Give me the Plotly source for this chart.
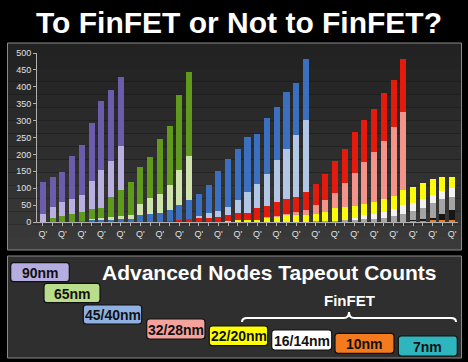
import plotly.graph_objects as go

W, H = 468, 362
ML, MR, MT, MB = 37, 10, 53, 140
PW = W - ML - MR
PH = H - MT - MB


def px(x):
    return (x - ML) / PW


def py(y):
    return (H - MB - y) / PH


# ---------------- data (segment values per bar, bottom -> top) ----------------
bars = list(range(43))
tick_labels = ["Q'" if i % 2 == 0 else "" for i in bars]

#            90nm group (9)                          65nm group (7)                 45/40nm group (12)                                  32/28nm group (10)                            22/20nm group (5)
orange   = [0, 0, 0, 0, 0, 0, 0, 0, 0,            0, 0, 0, 0, 0, 0, 0,            0, 0, 0, 0, 0, 0, 0, 0, 0, 0, 0, 0,                0, 0, 0, 0, 0, 0, 0, 0, 0, 0,               3, 3, 5, 6, 7]
black    = [0, 0, 0, 0, 0, 0, 0, 0, 0,            0, 0, 0, 0, 0, 0, 0,            0, 0, 0, 0, 0, 0, 0, 0, 0, 0, 0, 0,                0, 0, 0, 0, 0, 0, 0, 0, 0, 0,               2, 7, 8, 18, 28]
gray     = [0, 0, 0, 0, 0, 0, 0, 0, 0,            0, 0, 0, 0, 0, 0, 0,            0, 0, 0, 0, 0, 0, 0, 0, 0, 0, 0, 0,                2, 2, 3, 5, 5, 10, 10, 13, 17, 25,          28, 30, 42, 45, 39]
white    = [0, 0, 0, 0, 0, 0, 0, 0, 0,            0, 0, 0, 0, 0, 0, 0,            0, 0, 0, 0, 0, 0, 0, 0, 0, 0, 0, 0,                0, 0, 0, 0, 8, 10, 15, 17, 20, 25,          24, 27, 24, 22, 27]
yellow   = [0, 0, 0, 0, 0, 0, 0, 0, 0,            0, 0, 0, 0, 0, 0, 0,            0, 0, 0, 2, 6, 6, 7, 12, 14, 21, 21, 21,           22, 27, 39, 38, 34, 33, 34, 39, 40, 44,     46, 47, 48, 42, 32]
lightred = [0, 0, 0, 0, 0, 0, 0, 0, 0,            0, 0, 0, 0, 0, 0, 0,            0, 0, 0, 0, 0, 0, 0, 3, 4, 4, 9, 14,               25, 37, 44, 71, 97, 125, 149, 171, 203, 232, 0, 0, 0, 0, 0]
red      = [0, 0, 0, 0, 0, 0, 0, 0, 0,            0, 0, 0, 0, 2, 5, 10,           12, 13, 16, 19, 20, 22, 33, 33, 40, 44, 43, 54,    64, 76, 95, 101, 122, 124, 126, 141, 141, 157, 0, 0, 0, 0, 0]
lightblue = [0, 0, 0, 0, 0, 0, 0, 0, 0,           0, 0, 0, 0, 0, 0, 0,            5, 14, 16, 22, 40, 61, 73, 93, 125, 148, 183, 213, 0, 0, 0, 0, 0, 0, 0, 0, 0, 0,               0, 0, 0, 0, 0]
blue     = [0, 0, 0, 0, 2, 5, 7, 7, 10,           8, 20, 23, 27, 33, 44, 54,      67, 83, 118, 142, 151, 162, 147, 166, 156, 167, 155, 181, 0, 0, 0, 0, 0, 0, 0, 0, 0, 0,         0, 0, 0, 0, 0]
lightgreen = [0, 0, 0, 0, 0, 5, 6, 7, 7,          12, 33, 48, 55, 75, 104, 132,   0, 0, 0, 0, 0, 0, 0, 0, 0, 0, 0, 0,                0, 0, 0, 0, 0, 0, 0, 0, 0, 0,               0, 0, 0, 0, 0]
green    = [0, 13, 17, 25, 27, 29, 29, 60, 77,    97, 109, 121, 163, 174, 223, 247, 0, 0, 0, 0, 0, 0, 0, 0, 0, 0, 0, 0,              0, 0, 0, 0, 0, 0, 0, 0, 0, 0,               0, 0, 0, 0, 0]
lightpurple = [23, 30, 42, 42, 52, 81, 111, 106, 131, 0, 0, 0, 0, 0, 0, 0,        0, 0, 0, 0, 0, 0, 0, 0, 0, 0, 0, 0,                0, 0, 0, 0, 0, 0, 0, 0, 0, 0,               0, 0, 0, 0, 0]
purple   = [96, 91, 88, 128, 147, 172, 205, 211, 205, 0, 0, 0, 0, 0, 0, 0,        0, 0, 0, 0, 0, 0, 0, 0, 0, 0, 0, 0,                0, 0, 0, 0, 0, 0, 0, 0, 0, 0,               0, 0, 0, 0, 0]

series = [
    ("10nm", orange, "#f07a1e"),
    ("16/14nm dark", black, "#161616"),
    ("16/14nm gray", gray, "#a4a4a4"),
    ("16/14nm", white, "#f2f2f2"),
    ("22/20nm", yellow, "#fbfb0a"),
    ("32/28nm light", lightred, "#f4938a"),
    ("32/28nm", red, "#e41b0c"),
    ("45/40nm light", lightblue, "#b2c6e6"),
    ("45/40nm", blue, "#3a70bf"),
    ("65nm light", lightgreen, "#cfe4aa"),
    ("65nm", green, "#5f9a1c"),
    ("90nm light", lightpurple, "#bab0e0"),
    ("90nm", purple, "#6c5cac"),
]

legend_nodes = ["90nm", "65nm", "45/40nm", "32/28nm", "22/20nm", "16/14nm", "10nm", "7nm"]
legend_colors = ["#b5addf", "#b9dd8a", "#8fb0e3", "#f4a29c", "#ffff00", "#ffffff", "#f47a20", "#2fb5bd"]

# ---------------- figure ----------------
fig = go.Figure()
for name, vals, col in series:
    fig.add_trace(go.Bar(x=bars, y=vals, name=name, marker=dict(color=col, line=dict(width=0)),
                         showlegend=False))

shapes = []
# upper panel gradient background
top, bot = 43, 250
nb = 16
c0, c1 = (0x22, 0x22, 0x22), (0x3a, 0x3a, 0x3a)
for k in range(nb):
    t = k / (nb - 1)
    c = tuple(int(c0[j] + (c1[j] - c0[j]) * t) for j in range(3))
    y0 = top + (bot - top) * k / nb
    y1 = top + (bot - top) * (k + 1) / nb
    shapes.append(dict(type="rect", xref="paper", yref="paper", x0=px(7.5), x1=px(461.5),
                       y0=py(y1), y1=py(y0), fillcolor="rgb(%d,%d,%d)" % c,
                       line=dict(width=0), layer="below"))
shapes.append(dict(type="rect", xref="paper", yref="paper", x0=px(7.5), x1=px(461.5),
                   y0=py(250), y1=py(43), fillcolor="rgba(0,0,0,0)",
                   line=dict(color="#8a8a8a", width=1), layer="below"))
# lower panel
shapes.append(dict(type="rect", xref="paper", yref="paper", x0=px(7.5), x1=px(461.5),
                   y0=py(358), y1=py(256), fillcolor="#2f2f2f",
                   line=dict(color="#8a8a8a", width=1), layer="below"))

annotations = []
annotations.append(dict(text="<b>To FinFET or Not to FinFET?</b>", xref="paper", yref="paper",
                        x=px(238.5), y=py(23), xanchor="center", yanchor="middle", showarrow=False,
                        font=dict(family="Liberation Sans, Arial", size=30, color="white")))
annotations.append(dict(text="<b>Advanced Nodes Tapeout Counts</b>", xref="paper", yref="paper",
                        x=px(268.5), y=py(272), xanchor="center", yanchor="middle", showarrow=False,
                        font=dict(family="Liberation Sans, Arial", size=21, color="white")))
annotations.append(dict(text="<b>FinFET</b>", xref="paper", yref="paper",
                        x=px(349), y=py(300), xanchor="center", yanchor="middle", showarrow=False,
                        font=dict(family="Liberation Sans, Arial", size=15, color="white")))

boxes = [(10.7, 262.7, 69.3, 281.7), (44, 283.3, 100, 302.7), (83.3, 305, 141.7, 324),
         (146.7, 319, 205, 339), (209.3, 326, 267.7, 345.7), (271.7, 330, 331.7, 350),
         (335, 333.3, 394, 353.3), (398.3, 336, 457.3, 356)]


def rrect(x0, y0, x1, y1, r=3):
    pts = [
        f"M {px(x0 + r)},{py(y0)}",
        f"L {px(x1 - r)},{py(y0)}",
        f"Q {px(x1)},{py(y0)} {px(x1)},{py(y0 + r)}",
        f"L {px(x1)},{py(y1 - r)}",
        f"Q {px(x1)},{py(y1)} {px(x1 - r)},{py(y1)}",
        f"L {px(x0 + r)},{py(y1)}",
        f"Q {px(x0)},{py(y1)} {px(x0)},{py(y1 - r)}",
        f"L {px(x0)},{py(y0 + r)}",
        f"Q {px(x0)},{py(y0)} {px(x0 + r)},{py(y0)} Z",
    ]
    return " ".join(pts)


for (x0, y0, x1, y1), lab, col in zip(boxes, legend_nodes, legend_colors):
    shapes.append(dict(type="path", xref="paper", yref="paper", path=rrect(x0, y0, x1, y1),
                       fillcolor=col, line=dict(color="#111111", width=1.2)))
    annotations.append(dict(text="<b>%s</b>" % lab, xref="paper", yref="paper",
                            x=px((x0 + x1) / 2), y=py((y0 + y1) / 2 + 0.5), xanchor="center",
                            yanchor="middle", showarrow=False,
                            font=dict(family="Liberation Sans, Arial", size=14, color="#111111")))

# brace over FinFET nodes
brace = (f"M {px(242)},{py(322)} Q {px(242)},{py(318)} {px(247)},{py(318)} "
         f"L {px(344)},{py(318)} Q {px(349)},{py(318)} {px(349)},{py(312)} "
         f"Q {px(349)},{py(318)} {px(354)},{py(318)} "
         f"L {px(451)},{py(318)} Q {px(456)},{py(318)} {px(456)},{py(322)}")
shapes.append(dict(type="path", xref="paper", yref="paper", path=brace,
                   line=dict(color="white", width=2)))

fig.update_layout(
    width=W, height=H,
    margin=dict(l=ML, r=MR, t=MT, b=MB, pad=0),
    paper_bgcolor="black", plot_bgcolor="rgba(0,0,0,0)",
    barmode="stack", bargap=0.38,
    shapes=shapes, annotations=annotations,
    font=dict(family="Liberation Sans, Arial", color="#e0e0e0"),
    xaxis=dict(range=[-0.6, 42.6], tickmode="array", tickvals=bars, ticktext=tick_labels,
               ticks="outside", ticklen=3, tickcolor="#b0b0b0", showline=True, linecolor="#b0b0b0",
               linewidth=1, showgrid=False, zeroline=False, tickangle=0,
               tickfont=dict(size=9, color="#e0e0e0")),
    yaxis=dict(range=[0, 500], dtick=50, ticks="outside", ticklen=3, tickcolor="#b0b0b0",
               showline=True, linecolor="#b0b0b0", linewidth=1, showgrid=False, zeroline=False,
               tickfont=dict(size=9, color="#e0e0e0")),
)

fig.write_html("out.html", config={"displayModeBar": False, "staticPlot": True},
               post_script="document.body.style.margin='0';document.body.style.overflow='hidden';"
                           "document.body.style.background='black';")
